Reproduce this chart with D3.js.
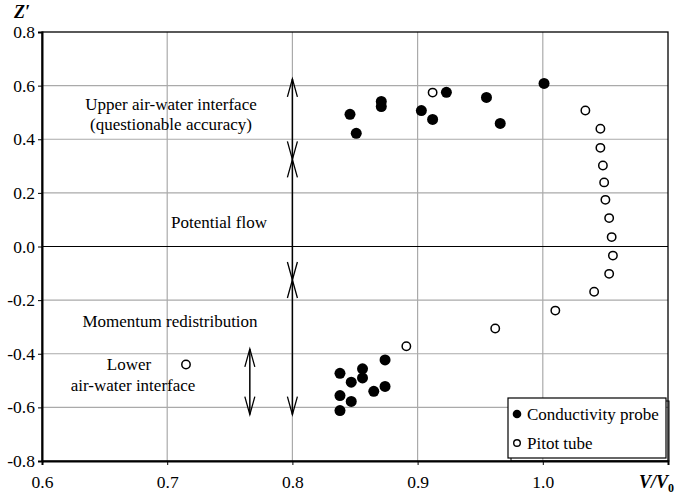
<!DOCTYPE html>
<html>
<head>
<meta charset="utf-8">
<script src="https://cdn.jsdelivr.net/npm/d3@7"></script>
<style>
  body { margin: 0; background: #fff; }
</style>
</head>
<body>
<svg id="chart" width="677" height="494"></svg>
<script>
const width = 677;
const height = 494;
const margin = { left: 42, right: 9, top: 32, bottom: 33 };
const serif = "Liberation Serif";

// conductivity probe (filled dots)
const probeV = [0.846, 0.851, 0.871, 0.871, 0.903, 0.912, 0.923, 0.955, 0.966, 1.001,
  0.838, 0.847, 0.856, 0.856, 0.874, 0.865, 0.874, 0.838, 0.847, 0.838];
const probeZ = [0.493, 0.422, 0.541, 0.522, 0.507, 0.474, 0.575, 0.556, 0.459, 0.608,
  -0.473, -0.506, -0.456, -0.490, -0.423, -0.540, -0.522, -0.556, -0.578, -0.612];

// Pitot tube (open circles)
const pitotV = [0.912, 1.034, 1.046, 1.046, 1.048, 1.049, 1.050, 1.053, 1.055, 1.056,
  1.053, 1.041, 1.010, 0.962, 0.891, 0.715];
const pitotZ = [0.574, 0.507, 0.439, 0.368, 0.302, 0.239, 0.174, 0.106, 0.035, -0.034,
  -0.102, -0.169, -0.239, -0.306, -0.372, -0.440];

const xTicks = [0.6, 0.7, 0.8, 0.9, 1.0];
const yTicks = [0.8, 0.6, 0.4, 0.2, 0.0, -0.2, -0.4, -0.6, -0.8];

const svg = d3.select("#chart");

const x = d3.scaleLinear().domain([0.6, 1.1]).range([margin.left, width - margin.right]);
const y = d3.scaleLinear().domain([-0.8, 0.8]).range([height - margin.bottom, margin.top]);

// grid lines
svg.append("g").selectAll("line")
  .data([0.7, 0.8, 0.9, 1.0])
  .enter().append("line")
  .attr("x1", d => x(d)).attr("x2", d => x(d))
  .attr("y1", y(0.8)).attr("y2", y(-0.8))
  .style("stroke", "#aaaaaa").style("stroke-width", 1.2);

svg.append("g").selectAll("line")
  .data(yTicks.filter(d => d !== 0.8 && d !== -0.8))
  .enter().append("line")
  .attr("x1", x(0.6)).attr("x2", x(1.1))
  .attr("y1", d => y(d)).attr("y2", d => y(d))
  .style("stroke", d => d === 0 ? "#000" : "#aaaaaa")
  .style("stroke-width", 1.2);

// frame
svg.append("rect")
  .attr("x", x(0.6)).attr("y", y(0.8))
  .attr("width", x(1.1) - x(0.6)).attr("height", y(-0.8) - y(0.8))
  .style("fill", "none").style("stroke", "#000").style("stroke-width", 1.3);

// axes
const yAxis = d3.axisLeft(y).tickValues(yTicks).tickSize(4)
  .tickFormat(d => d3.format(".1f")(d).replace("−", "-"));
svg.append("g")
  .attr("transform", `translate(${x(0.6)},0)`)
  .call(yAxis)
  .call(g => g.select(".domain").style("stroke-width", 2))
  .call(g => g.selectAll("text").style("font-family", serif).style("font-size", "17.5px")
    .attr("x", -7).attr("fill", "#000"));

const xAxis = d3.axisBottom(x).tickValues(xTicks).tickSize(4)
  .tickFormat(d3.format(".1f"));
svg.append("g")
  .attr("transform", `translate(0,${y(-0.8)})`)
  .call(xAxis)
  .call(g => g.select(".domain").style("stroke-width", 2))
  .call(g => g.selectAll("text").style("font-family", serif).style("font-size", "17.5px")
    .attr("y", 15).attr("fill", "#000"));

// axis titles
svg.append("text")
  .attr("x", 14).attr("y", 18)
  .style("font-family", serif)
  .style("font-size", "18px").style("font-weight", "bold").style("font-style", "italic")
  .text("Z′");

const vt = svg.append("text")
  .attr("x", 639).attr("y", 488)
  .style("font-family", serif)
  .style("font-size", "18px").style("font-weight", "bold").style("font-style", "italic");
vt.append("tspan").text("V/V");
vt.append("tspan").attr("dy", 4).style("font-size", "12px").style("font-style", "normal").text("0");

// arrows
function arrowHead(xv, zv, dir) {
  const px = x(xv), py = y(zv);
  const hw = 5, hl = 18;
  svg.append("path")
    .attr("d", `M${px - hw},${py + dir * hl}L${px},${py}L${px + hw},${py + dir * hl}`)
    .style("fill", "none").style("stroke", "#000").style("stroke-width", 1.3);
}

const mainArrowTop = 0.625;
const mainArrowBottom = -0.627;
const breaks = [0.325, -0.125];

svg.append("line")
  .attr("x1", x(0.8)).attr("x2", x(0.8))
  .attr("y1", y(mainArrowTop)).attr("y2", y(mainArrowBottom))
  .style("stroke", "#000").style("stroke-width", 1.5);
arrowHead(0.8, mainArrowTop, 1);
arrowHead(0.8, mainArrowBottom, -1);
breaks.forEach(b => { arrowHead(0.8, b, 1); arrowHead(0.8, b, -1); });

const lowArrowV = 0.766;
svg.append("line")
  .attr("x1", x(lowArrowV)).attr("x2", x(lowArrowV))
  .attr("y1", y(-0.382)).attr("y2", y(-0.627))
  .style("stroke", "#000").style("stroke-width", 1.5);
arrowHead(lowArrowV, -0.382, 1);
arrowHead(lowArrowV, -0.627, -1);

// annotation text
const notes = [
  { t: "Upper air-water interface", cx: 171, cy: 110 },
  { t: "(questionable accuracy)", cx: 171, cy: 130 },
  { t: "Potential flow", cx: 219, cy: 228 },
  { t: "Momentum redistribution", cx: 170, cy: 327 },
  { t: "Lower", cx: 129, cy: 370 },
  { t: "air-water interface", cx: 133, cy: 391 }
];
svg.append("g").selectAll("text")
  .data(notes)
  .enter().append("text")
  .attr("x", d => d.cx).attr("y", d => d.cy)
  .attr("text-anchor", "middle")
  .style("font-family", serif)
  .style("font-size", "17px")
  .text(d => d.t);

// data points
svg.append("g").selectAll("circle")
  .data(d3.zip(pitotV, pitotZ))
  .enter().append("circle")
  .attr("cx", d => x(d[0])).attr("cy", d => y(d[1]))
  .attr("r", 4.2)
  .style("fill", "#fff").style("stroke", "#000").style("stroke-width", 1.5);

svg.append("g").selectAll("circle")
  .data(d3.zip(probeV, probeZ))
  .enter().append("circle")
  .attr("cx", d => x(d[0])).attr("cy", d => y(d[1]))
  .attr("r", 5.5)
  .style("fill", "#000");

// legend
const lg = svg.append("g").attr("transform", "translate(508,398)");
lg.append("rect").attr("x", 3).attr("y", 3).attr("width", 158).attr("height", 60)
  .style("fill", "none").style("stroke", "#000").style("stroke-width", 1);
lg.append("rect").attr("x", 0).attr("y", 0).attr("width", 158).attr("height", 60)
  .style("fill", "#fff").style("stroke", "#000").style("stroke-width", 1.2);
lg.append("circle").attr("cx", 9).attr("cy", 16).attr("r", 4.3).style("fill", "#000");
lg.append("circle").attr("cx", 9).attr("cy", 45).attr("r", 3.3)
  .style("fill", "#fff").style("stroke", "#000").style("stroke-width", 1.4);
lg.append("text").attr("x", 19).attr("y", 22).style("font-family", serif).style("font-size", "17px").text("Conductivity probe");
lg.append("text").attr("x", 19).attr("y", 51).style("font-family", serif).style("font-size", "17px").text("Pitot tube");
</script>
</body>
</html>
